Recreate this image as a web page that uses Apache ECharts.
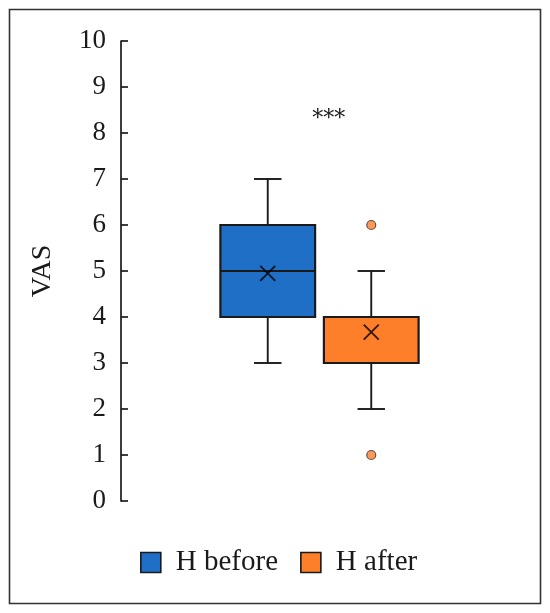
<!DOCTYPE html>
<html>
<head>
<meta charset="utf-8">
<script src="https://cdn.jsdelivr.net/npm/echarts@6/dist/echarts.min.js"></script>
<style>
html,body{margin:0;padding:0;background:#fff;}
#chart{width:550px;height:613px;}
</style>
</head>
<body>
<div id="chart"></div>
<script>
// ---- data ----
const categories = ['H before', 'H after'];
// [min, Q1, median, Q3, max]
const hBefore = [3, 4, 5, 6, 7];
const hAfter = [2, 3, 3, 4, 5];
const means = [4.95, 3.67];
const outliersAfter = [6, 1];
const yTicks = { min: 0, max: 10, interval: 1 };
const significance = '***';
const sigY = 8.3;

const blue = '#1f6fc7';
const orange = '#fd7f2a';
const ink = '#1a1a1a';
const FONT = '"Liberation Serif", "DejaVu Serif", serif';

function renderBox(params, api) {
  const x = api.value(0);
  const pMin = api.coord([x, api.value(1)]);
  const pQ1 = api.coord([x, api.value(2)]);
  const pMed = api.coord([x, api.value(3)]);
  const pQ3 = api.coord([x, api.value(4)]);
  const pMax = api.coord([x, api.value(5)]);
  const band = api.size([1, 0])[0];
  const bw = band * 0.915;
  const cw = band * 0.265;
  const cx = pMin[0];
  const ls = { stroke: ink, lineWidth: 1.9 };
  return {
    type: 'group',
    children: [
      { type: 'line', shape: { x1: cx, y1: pMax[1], x2: cx, y2: pQ3[1] }, style: ls },
      { type: 'line', shape: { x1: cx, y1: pQ1[1], x2: cx, y2: pMin[1] }, style: ls },
      { type: 'line', shape: { x1: cx - cw / 2, y1: pMax[1], x2: cx + cw / 2, y2: pMax[1] }, style: ls },
      { type: 'line', shape: { x1: cx - cw / 2, y1: pMin[1], x2: cx + cw / 2, y2: pMin[1] }, style: ls },
      { type: 'rect', shape: { x: cx - bw / 2, y: pQ3[1], width: bw, height: pQ1[1] - pQ3[1] },
        style: { fill: api.visual('color'), stroke: ink, lineWidth: 2.2 } },
      { type: 'line', shape: { x1: cx - bw / 2, y1: pMed[1], x2: cx + bw / 2, y2: pMed[1] },
        style: { stroke: ink, lineWidth: 2 } }
    ]
  };
}

const chart = echarts.init(document.getElementById('chart'), null, { renderer: 'canvas' });

const option = {
  animation: false,
  backgroundColor: '#fff',
  grid: { left: 216, width: 207, top: 41, bottom: 112 },
  xAxis: {
    type: 'category',
    data: categories,
    show: false
  },
  yAxis: {
    type: 'value',
    min: yTicks.min, max: yTicks.max, interval: yTicks.interval,
    offset: 95,
    name: 'VAS',
    nameLocation: 'middle',
    nameRotate: 90,
    nameGap: 64,
    nameTextStyle: { fontFamily: FONT, fontSize: 28, color: ink },
    axisLine: { show: true, lineStyle: { color: ink, width: 1.7 } },
    axisTick: { show: true, inside: true, length: 7, lineStyle: { color: ink, width: 1.7 } },
    axisLabel: { fontFamily: FONT, fontSize: 27, color: ink, margin: 15 },
    splitLine: { show: false }
  },
  legend: {
    data: categories,
    left: 140,
    top: 548,
    padding: 0,
    icon: 'rect',
    itemWidth: 20,
    itemHeight: 20,
    itemGap: 22,
    itemStyle: { borderColor: ink, borderWidth: 1.6 },
    textStyle: { fontFamily: FONT, fontSize: 29, color: ink, padding: [0, 0, 0, 10] }
  },
  series: [
    {
      name: categories[0],
      type: 'custom',
      renderItem: renderBox,
      itemStyle: { color: blue },
      encode: { x: 0, y: [1, 2, 3, 4, 5] },
      data: [[0].concat(hBefore)],
      z: 2
    },
    {
      name: categories[1],
      type: 'custom',
      renderItem: renderBox,
      itemStyle: { color: orange },
      encode: { x: 0, y: [1, 2, 3, 4, 5] },
      data: [[1].concat(hAfter)],
      z: 2
    },
    {
      name: 'mean',
      type: 'scatter',
      symbol: 'path://M0,0L10,10M10,0L0,10',
      symbolSize: 15,
      itemStyle: { color: 'none', borderColor: '#000', borderWidth: 1.9 },
      data: categories.map((c, i) => [c, means[i]]),
      z: 5
    },
    {
      name: 'outliers',
      type: 'scatter',
      symbol: 'circle',
      symbolSize: 9,
      itemStyle: { color: orange, borderColor: '#333', borderWidth: 1.2 },
      data: outliersAfter.map(v => [categories[1], v]),
      z: 5
    }
  ]
};
chart.setOption(option);

const c0 = chart.convertToPixel({ gridIndex: 0 }, [categories[0], sigY]);
const c1 = chart.convertToPixel({ gridIndex: 0 }, [categories[1], sigY]);
chart.setOption({
  graphic: [
    { type: 'rect', shape: { x: 9.5, y: 9.5, width: 531, height: 594 },
      style: { fill: 'none', stroke: '#333', lineWidth: 1.6 }, z: 10 },
    { type: 'text', x: c0[0] + 0.59 * (c1[0] - c0[0]), y: c0[1],
      style: { text: significance, fontFamily: '"DejaVu Serif", serif', fontSize: 22, fill: ink,
               align: 'center', verticalAlign: 'middle' }, z: 10 }
  ]
});
</script>
</body>
</html>
